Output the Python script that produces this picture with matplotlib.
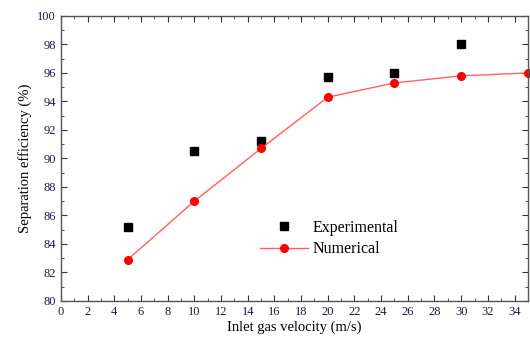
import matplotlib
matplotlib.use("Agg")
import matplotlib.pyplot as plt
from matplotlib.ticker import MultipleLocator

plt.rcParams['font.family'] = ['Liberation Serif', 'DejaVu Serif']

exp_x = [5, 10, 15, 20, 25, 30]
exp_y = [85.2, 90.5, 91.2, 95.7, 96.0, 98.05]
num_x = [5, 10, 15, 20, 25, 30, 35]
num_y = [82.9, 87.0, 90.7, 94.3, 95.3, 95.8, 96.0]

fig = plt.figure(figsize=(5.3, 3.4), dpi=100)
ax = fig.add_axes([0.115, 0.115, 0.881, 0.838])

ax.plot(exp_x, exp_y, 's', color='black', markersize=5.5, linestyle='none', label='Experimental')
ax.plot(num_x, num_y, '-o', color='#ff6060', markerfacecolor='red', markeredgecolor='red',
        markersize=5.5, linewidth=1.0, label='Numerical', clip_on=False)

ax.set_xlim(0, 35)
ax.set_ylim(80, 100)
ax.xaxis.set_major_locator(MultipleLocator(2))
ax.xaxis.set_minor_locator(MultipleLocator(1))
ax.yaxis.set_major_locator(MultipleLocator(2))
ax.yaxis.set_minor_locator(MultipleLocator(1))
ax.tick_params(which='both', direction='in', top=True, right=True, labelsize=9, colors='#333333',
               labelcolor='#1a1a40')
ax.tick_params(which='major', length=4)
ax.tick_params(which='minor', length=2)
for s in ax.spines.values():
    s.set_color('#555555')
    s.set_linewidth(1.0)

ax.set_xlabel('Inlet gas velocity (m/s)', fontsize=10.5, labelpad=2)
ax.set_ylabel('Separation efficiency (%)', fontsize=10.5, labelpad=4)

leg = ax.legend(loc='upper left', bbox_to_anchor=(0.395, 0.335), frameon=False, fontsize=11.5,
                handlelength=3, handletextpad=0.3, labelspacing=0.35)

fig.savefig('out.png', dpi=100)
